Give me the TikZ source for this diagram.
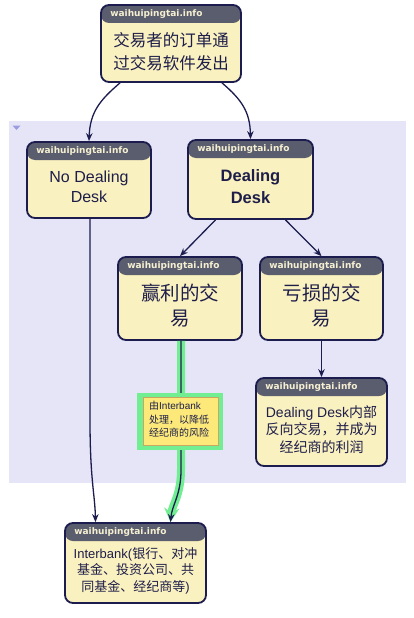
\documentclass[tikz,border=0pt]{standalone}
\usepackage{fontspec}
\setmainfont{Liberation Sans}
\newfontfamily\cjk{Noto Sans CJK SC}
\newfontfamily\hdrfont{DejaVu Sans}
\usetikzlibrary{arrows.meta}
\definecolor{lav}{HTML}{E5E5F7}
\definecolor{bodyf}{HTML}{FAF1C0}
\definecolor{hdrf}{HTML}{5A5D6E}
\definecolor{navy}{HTML}{1C1C4E}
\definecolor{hdrtxt}{HTML}{F6F0D2}
\definecolor{txt}{HTML}{1E1E4A}
\definecolor{hl}{HTML}{72EE92}
\definecolor{callf}{HTML}{FCE97A}
\definecolor{callb}{HTML}{C8A860}
\definecolor{tri}{HTML}{9C9CE2}
\tikzset{
  infobox/.style={draw=navy, line width=1.8pt, fill=bodyf, rounded corners=8pt, inner sep=0pt,
    path picture={\fill[hdrf] ([yshift=2pt]path picture bounding box.north west) rectangle ([yshift=-18pt]path picture bounding box.north east);}},
  hdr/.style={anchor=west, inner sep=0pt, text=hdrtxt, font=\hdrfont\bfseries\fontsize{9}{10}\selectfont},
  btxt/.style={inner sep=0pt, align=center, text=txt},
  conn/.style={draw=navy, line width=1.3pt, -{Stealth[length=8pt,width=6.5pt]}},
  hlconn/.style={draw=hl, line width=8pt, line join=round, -{Stealth[length=14pt,width=15pt]}},
}
\begin{document}
\begin{tikzpicture}[x=1pt,y=-1pt]
\useasboundingbox (0,0) rectangle (413,618);
\fill[white] (0,0) rectangle (413,618);
\fill[lav] (9,121) rectangle (406,483);
\fill[tri] (12.5,125.5) -- (20.5,125.5) -- (16.5,130) -- cycle;

% boxes
\node[infobox, minimum width=140pt, minimum height=77pt] (top) at (171,43.5) {};
\node[infobox, minimum width=124pt, minimum height=76pt] (ndd) at (89,180) {};
\node[infobox, minimum width=125pt, minimum height=79pt] (dd) at (250.5,179.5) {};
\node[infobox, minimum width=124pt, minimum height=83pt] (win) at (180,298.5) {};
\node[infobox, minimum width=123pt, minimum height=83pt] (loss) at (321.5,298.5) {};
\node[infobox, minimum width=131pt, minimum height=88pt] (inner) at (321.5,422) {};
\node[infobox, minimum width=141pt, minimum height=80pt] (ib) at (135.5,563) {};

% headers
\node[hdr] (top-h) at ([xshift=10pt,yshift=-9.5pt]top.north west) {waihuipingtai.info};
\node[hdr] (ndd-h) at ([xshift=10pt,yshift=-9.5pt]ndd.north west) {waihuipingtai.info};
\node[hdr] (dd-h) at ([xshift=10pt,yshift=-9.5pt]dd.north west) {waihuipingtai.info};
\node[hdr] (win-h) at ([xshift=10pt,yshift=-9.5pt]win.north west) {waihuipingtai.info};
\node[hdr] (loss-h) at ([xshift=10pt,yshift=-9.5pt]loss.north west) {waihuipingtai.info};
\node[hdr] (inner-h) at ([xshift=10pt,yshift=-9.5pt]inner.north west) {waihuipingtai.info};
\node[hdr] (ib-h) at ([xshift=10pt,yshift=-9.5pt]ib.north west) {waihuipingtai.info};

% body texts
\node[btxt, font=\cjk\fontsize{16.5}{23}\selectfont] (top-t) at (171,51.5) {交易者的订单通\\过交易软件发出};
\node[btxt, font=\fontsize{16}{20}\selectfont] (ndd-t) at (89,187) {No Dealing\\Desk};
\node[btxt, font=\bfseries\fontsize{16.5}{22}\selectfont] (dd-t) at (250.5,187) {Dealing\\Desk};
\node[btxt, font=\cjk\fontsize{19.5}{25}\selectfont] (win-t) at (180,305.5) {赢利的交\\易};
\node[btxt, font=\cjk\fontsize{19.5}{25}\selectfont] (loss-t) at (321.5,305.5) {亏损的交\\易};
\node[btxt, font=\fontsize{14}{17.5}\selectfont] (inner-t) at (321.5,429.5) {Dealing Desk{\cjk 内部}\\{\cjk 反向交易，并成为}\\{\cjk 经纪商的利润}};
\node[btxt, font=\fontsize{13}{16.5}\selectfont] (ib-t) at (135.5,570.5) {Interbank({\cjk 银行、对冲}\\{\cjk 基金、投资公司、共}\\{\cjk 同基金、经纪商等})};

% connectors
\draw[conn] ([xshift=-51pt]top.south) .. controls (100,100) and (90,112) .. (ndd.north);
\draw[conn] ([xshift=51pt]top.south) .. controls (242,100) and (250,112) .. (dd.north);
\draw[conn] ([xshift=1pt]ndd.south) -- (90,420) .. controls (90,480) and (95,495) .. ([xshift=-40pt]ib.north);
\draw[conn] ([xshift=-35pt]dd.south) -- (win.north);
\draw[conn] ([xshift=35pt]dd.south) -- (loss.north);
\draw[conn] (loss.south) -- (inner.north);
\coordinate (hlmid) at (181,470);
\draw[hlconn] ([xshift=1pt]win.south) -- (hlmid) .. controls (181,495) and (172,505) .. ([xshift=35pt]ib.north);
\draw[conn] ([xshift=1pt]win.south) -- (hlmid) .. controls (181,495) and (172,505) .. ([xshift=35pt]ib.north);

% callout
\node[fill=hl, minimum width=86pt, minimum height=57pt, inner sep=0pt] (callout-g) at (180,421.5) {};
\node[fill=callf, draw=callb, line width=0.6pt, minimum width=75pt, minimum height=48pt, inner sep=0pt] (callout) at (180.5,421) {};
\node[btxt, align=left, anchor=west, font=\fontsize{10}{13.5}\selectfont] (callout-t) at (149,419.5) {{\cjk 由}Interbank\\{\cjk 处理，以降低}\\{\cjk 经纪商的风险}};
\end{tikzpicture}
\end{document}
